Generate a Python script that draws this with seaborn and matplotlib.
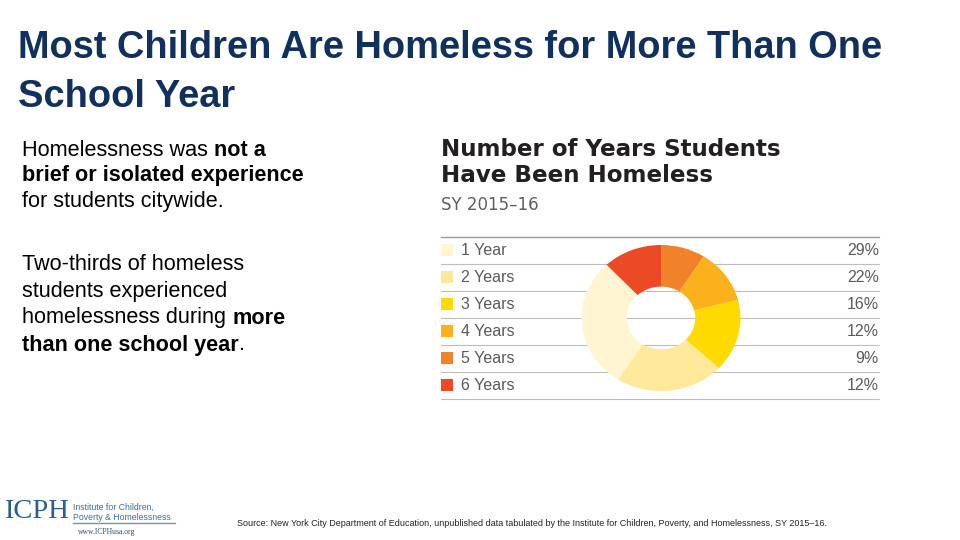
import matplotlib
matplotlib.use("Agg")
import matplotlib.pyplot as plt
import seaborn as sns
from matplotlib.lines import Line2D
from matplotlib.patches import Rectangle

# ---- data ----
categories = ["1 Year", "2 Years", "3 Years", "4 Years", "5 Years", "6 Years"]
shares = [29, 22, 16, 12, 9, 12]
pct_labels = ["29%", "22%", "16%", "12%", "9%", "12%"]
colors = ["#FFF5D2", "#FEE89A", "#FFDA00", "#FBB11B", "#F2822A", "#EC4A24"]

sns.set_theme(style="white")
palette = sns.color_palette(colors)
plt.rcParams['font.family'] = ['Liberation Sans', 'DejaVu Sans']

W, H = 960, 540
fig = plt.figure(figsize=(9.6, 5.4), dpi=100)
fig.patch.set_facecolor("white")

def fx(x): return x / W
def fy(y): return 1 - y / H

NAVY = "#10305E"

# slide title
fig.text(fx(18), fy(48), "Most Children Are Homeless for More Than One",
         fontsize=27.4, fontweight="bold", color=NAVY, va="center", ha="left")
fig.text(fx(18), fy(97), "School Year",
         fontsize=27.4, fontweight="bold", color=NAVY, va="center", ha="left")

# body text with mixed weights
renderer = fig.canvas.get_renderer()
def runs(x, y, parts, size=15.6):
    cx = x
    for txt, bold in parts:
        t = fig.text(fx(cx), fy(y), txt, fontsize=size,
                     fontweight="bold" if bold else "normal",
                     color="black", va="center", ha="left")
        bb = t.get_window_extent(renderer=renderer)
        cx += bb.width

runs(22, 150, [("Homelessness was ", False), ("not a", True)])
runs(22, 176, [("brief or isolated experience", True)])
runs(22, 202, [("for students citywide.", False)])
runs(22, 265, [("Two-thirds of homeless", False)])
runs(22, 291, [("students experienced", False)])
runs(22, 318, [("homelessness during ", False), ("more", True)])
runs(22, 345, [("than one school year", True), (".", False)])

# chart title
fig.text(fx(441), fy(149), "Number of Years Students", fontsize=16.6,
         fontweight="bold", color="#231F20", va="center", ha="left",
         family=["DejaVu Sans"])
fig.text(fx(441), fy(176), "Have Been Homeless", fontsize=16.6,
         fontweight="bold", color="#231F20", va="center", ha="left",
         family=["DejaVu Sans"])
fig.text(fx(441), fy(205), "SY 2015\u201316", fontsize=12,
         color="#5E5E5E", va="center", ha="left", family=["DejaVu Sans"])

# legend table
bg = fig.add_axes([0, 0, 1, 1], zorder=0)
bg.set_xlim(0, W)
bg.set_ylim(H, 0)
bg.axis("off")
row_top = 236.5
row_h = 27
for i in range(len(categories) + 1):
    yy = row_top + i * row_h
    bg.add_line(Line2D([441, 879], [yy, yy], color="#9A9A9A" if i == 0 else "#BDBDBD",
                       lw=1.0 if i == 0 else 0.8))
for i, (cat, p, c) in enumerate(zip(categories, pct_labels, palette)):
    yc = row_top + (i + 0.5) * row_h
    bg.add_patch(Rectangle((441, yc - 6), 12, 12, color=c, lw=0))
    bg.text(461, yc + 0.5, cat, fontsize=11.5, color="#5A5A5A", va="center", ha="left",
            family=["Liberation Sans"])
    bg.text(879, yc + 0.5, p, fontsize=11.5, color="#5A5A5A", va="center", ha="right",
            family=["Liberation Sans"])

# donut
cx, cy, rw, rh = 661, 318, 159, 146
ax = fig.add_axes([fx(cx - rw / 2), fy(cy + rh / 2), rw / W, rh / H], zorder=2)
start = 90 + shares[-1] / 100 * 360
ax.pie(shares, colors=palette, startangle=start, counterclock=True,
       wedgeprops=dict(width=0.57, linewidth=0), radius=1)
ax.set_aspect("auto")
ax.set_xlim(-1, 1)
ax.set_ylim(-1, 1)
ax.axis("off")

# logo
fig.text(fx(4), fy(512), "ICPH", fontsize=20.5, color="#2A5D8F", va="center", ha="left",
         family=["Liberation Serif", "DejaVu Serif"])
fig.text(fx(73), fy(507), "Institute for Children,", fontsize=6.3, color="#3F6FA0",
         va="center", ha="left")
fig.text(fx(73), fy(517), "Poverty & Homelessness", fontsize=6.3, color="#3F6FA0",
         va="center", ha="left")
bg.add_line(Line2D([73, 175], [523, 523], color="#6F93BA", lw=1))
fig.text(fx(78), fy(532), "www.ICPHusa.org", fontsize=5.5, color="#2A4F7A",
         va="center", ha="left", family=["Liberation Serif", "DejaVu Serif"])

# source
fig.text(fx(237), fy(523),
         "Source: New York City Department of Education, unpublished data tabulated by the Institute for Children, Poverty, and Homelessness, SY 2015\u201316.",
         fontsize=6.5, color="#222222", va="center", ha="left")

fig.savefig("out.png", dpi=100, facecolor="white")
